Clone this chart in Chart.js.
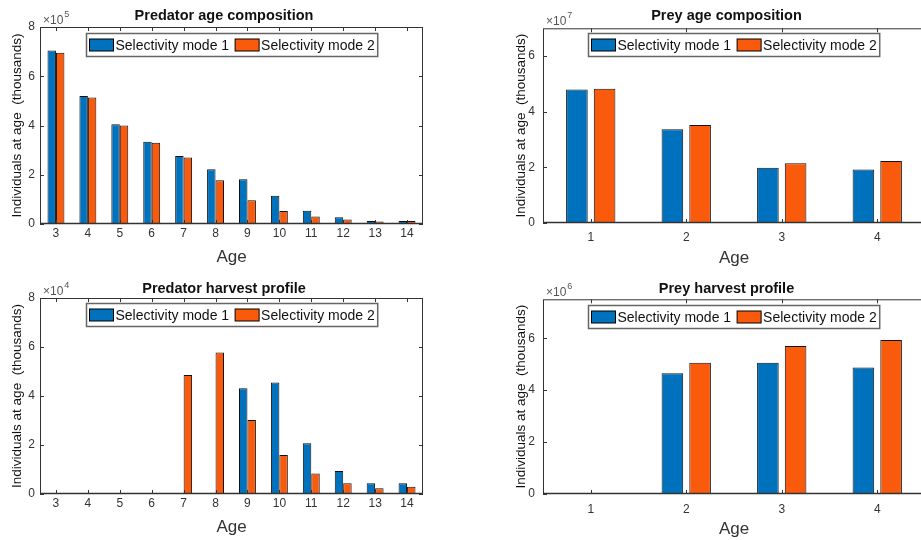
<!DOCTYPE html>
<html>
<head>
<title>Predator and prey age composition</title>
<script src="https://cdn.jsdelivr.net/npm/chart.js"></script>
<style>
  body { margin: 0; width: 921px; height: 540px; overflow: hidden; background: #fff; }
  canvas { position: absolute; }
</style>
</head>
<body>
<canvas id="predAge" width="460" height="270" style="left:0;top:0"></canvas>
<canvas id="preyAge" width="480" height="270" style="left:460px;top:0"></canvas>
<canvas id="predHarvest" width="460" height="270" style="left:0;top:270px"></canvas>
<canvas id="preyHarvest" width="480" height="270" style="left:460px;top:270px"></canvas>

<script>
// data
const predatorAges = ['3', '4', '5', '6', '7', '8', '9', '10', '11', '12', '13', '14'];
const preyAges = ['1', '2', '3', '4'];
const seriesNames = ['Selectivity mode 1', 'Selectivity mode 2'];

const predAgeMode1 = [7.05e5, 5.20e5, 4.05e5, 3.34e5, 2.76e5, 2.22e5, 1.82e5, 1.15e5, 0.54e5, 0.27e5, 0.12e5, 0.12e5];
const predAgeMode2 = [6.95e5, 5.14e5, 4.00e5, 3.30e5, 2.70e5, 1.78e5, 0.96e5, 0.53e5, 0.30e5, 0.18e5, 0.10e5, 0.12e5];

const preyAgeMode1 = [4.80e7, 3.37e7, 1.99e7, 1.92e7];
const preyAgeMode2 = [4.83e7, 3.52e7, 2.15e7, 2.23e7];

const predHarvestMode1 = [0, 0, 0, 0, 0, 0, 4.32e4, 4.55e4, 2.07e4, 0.94e4, 0.44e4, 0.44e4];
const predHarvestMode2 = [0, 0, 0, 0, 4.86e4, 5.78e4, 3.02e4, 1.59e4, 0.84e4, 0.44e4, 0.23e4, 0.30e4];

const preyHarvestMode1 = [0, 4.65e6, 5.06e6, 4.87e6];
const preyHarvestMode2 = [0, 5.06e6, 5.70e6, 5.93e6];

const FONT = '"Liberation Sans", Arial, sans-serif';
const BLUE = '#0072BD';
const ORANGE = '#F95A0C';

// MATLAB-ish title, box, inward ticks, exponent and boxed legend
const matlabAxes = {
  id: 'matlabAxes',
  afterDraw(chart, args, opts) {
    const { ctx, chartArea: a, scales: { x, y } } = chart;
    ctx.save();

    // title
    ctx.fillStyle = '#111';
    ctx.font = 'bold 14.5px ' + FONT;
    ctx.textAlign = 'center';
    ctx.textBaseline = 'middle';
    ctx.fillText(opts.title, (a.left + a.right) / 2 + opts.titleShift, opts.titleY);

    ctx.strokeStyle = '#333';
    ctx.lineWidth = 1;
    ctx.strokeRect(a.left + 0.5, a.top + 0.5, a.right - a.left - 1, a.bottom - a.top - 1);
    ctx.lineWidth = 1.6;
    ctx.beginPath();
    ctx.moveTo(a.left, a.bottom - 0.5);
    ctx.lineTo(a.right, a.bottom - 0.5);
    ctx.stroke();

    const tl = 4;
    ctx.lineWidth = 1;
    ctx.beginPath();
    x.ticks.forEach((t, i) => {
      const px = Math.round(x.getPixelForTick(i)) + 0.5;
      ctx.moveTo(px, a.bottom); ctx.lineTo(px, a.bottom - tl);
      ctx.moveTo(px, a.top); ctx.lineTo(px, a.top + tl);
    });
    y.ticks.forEach(t => {
      const py = Math.round(y.getPixelForValue(t.value)) + 0.5;
      ctx.moveTo(a.left, py); ctx.lineTo(a.left + tl, py);
      ctx.moveTo(a.right, py); ctx.lineTo(a.right - tl, py);
    });
    ctx.stroke();

    // x10^n
    ctx.fillStyle = '#555';
    ctx.textAlign = 'left';
    ctx.textBaseline = 'alphabetic';
    ctx.font = '12px ' + FONT;
    const ex = a.left + 3, ey = a.top - 3;
    ctx.fillText('\u00d710', ex, ey);
    const w = ctx.measureText('\u00d710').width;
    ctx.font = '9px ' + FONT;
    ctx.fillText(String(opts.exponent), ex + w + 1, ey - 7);

    // legend
    ctx.font = '14px ' + FONT;
    const items = chart.data.datasets.map(ds => ({
      label: ds.label, color: ds.backgroundColor, w: ctx.measureText(ds.label).width
    }));
    const sw = 24, sh = 12, pad = 3, gap = 2, sep = 6, lh = 23;
    const total = pad * 2 + items.reduce((s, it) => s + sw + gap + it.w, 0) + sep * (items.length - 1);
    const lx = Math.round((a.left + a.right) / 2 - total / 2) + 0.5;
    const ly = Math.round(a.top + opts.legendTop) + 0.5;
    ctx.fillStyle = '#fff';
    ctx.fillRect(lx, ly, total, lh);
    ctx.strokeStyle = '#666';
    ctx.lineWidth = 1.5;
    ctx.strokeRect(lx, ly, total, lh);
    let cx = lx + pad;
    items.forEach(it => {
      const sy = ly + (lh - sh) / 2;
      ctx.fillStyle = it.color;
      ctx.fillRect(cx, sy, sw, sh);
      ctx.strokeStyle = '#000';
      ctx.lineWidth = 1;
      ctx.strokeRect(cx, sy, sw, sh);
      cx += sw + gap;
      ctx.fillStyle = '#111';
      ctx.textBaseline = 'middle';
      ctx.fillText(it.label, cx, ly + lh / 2 + 1);
      cx += it.w + sep;
    });
    ctx.restore();
  }
};

function makeChart(id, title, labels, mode1, mode2, f) {
  const step = 2 * Math.pow(10, f.exp);
  new Chart(document.getElementById(id), {
    type: 'bar',
    data: {
      labels: labels,
      datasets: [
        { label: seriesNames[0], data: mode1, backgroundColor: BLUE, borderColor: '#111', borderWidth: 1 },
        { label: seriesNames[1], data: mode2, backgroundColor: ORANGE, borderColor: '#111', borderWidth: 1 }
      ]
    },
    options: {
      responsive: false,
      animation: false,
      layout: { padding: { left: 0, right: f.padRight, top: f.top, bottom: 0 } },
      datasets: { bar: { categoryPercentage: f.cat, barPercentage: f.bar } },
      plugins: {
        legend: { display: false },
        tooltip: { enabled: false },
        title: { display: false },
        matlabAxes: { title: title, titleY: f.titleY, titleShift: -7.5, exponent: f.exp, legendTop: f.legendTop }
      },
      scales: {
        x: {
          grid: { display: false, drawTicks: false, tickLength: 0 },
          border: { display: false },
          ticks: { color: '#333', font: { family: FONT, size: 12 }, padding: f.xTickPad, maxRotation: 0, autoSkip: false },
          title: { display: true, text: 'Age', color: '#333', font: { family: FONT, size: 17 }, padding: { top: 0, bottom: f.xTitlePad } },
          afterFit: s => { s.height = f.xHeight; }
        },
        y: {
          min: 0,
          max: f.max,
          grid: { display: false, drawTicks: false, tickLength: 0 },
          border: { display: false },
          ticks: {
            color: '#333', font: { family: FONT, size: 12 }, padding: f.yTickPad, autoSkip: false,
            callback: v => Math.round(v / Math.pow(10, f.exp))
          },
          afterBuildTicks: s => {
            const n = Math.floor(f.max / step + 1e-9);
            s.ticks = Array.from({ length: n + 1 }, (_, k) => ({ value: k * step }));
          },
          title: {
            display: true, text: 'Individuals at age  (thousands)', color: '#111',
            font: { family: FONT, size: 13.5 }, padding: { top: f.yTitlePad, bottom: 0 }
          },
          afterFit: s => { s.width = f.yWidth; }
        }
      }
    },
    plugins: [matlabAxes]
  });
}

makeChart('predAge', 'Predator age composition', predatorAges, predAgeMode1, predAgeMode2, {
  exp: 5, max: 8e5, cat: 0.53, bar: 1.0, top: 27, padRight: 37, yWidth: 40, xHeight: 46,
  titleY: 15.5, xTickPad: 2, xTitlePad: 2.8, yTitlePad: 9, yTickPad: 5, legendTop: 6
});
makeChart('preyAge', 'Prey age composition', preyAges, preyAgeMode1, preyAgeMode2, {
  exp: 7, max: 7e7, cat: 0.58, bar: 0.78, top: 28.3, padRight: 15, yWidth: 83, xHeight: 47,
  titleY: 16, xTickPad: 7.8, xTitlePad: 1.8, yTitlePad: 53, yTickPad: 8, legendTop: 5
});
makeChart('predHarvest', 'Predator harvest profile', predatorAges, predHarvestMode1, predHarvestMode2, {
  exp: 4, max: 8e4, cat: 0.53, bar: 1.0, top: 28, padRight: 37, yWidth: 40, xHeight: 46,
  titleY: 19, xTickPad: 2, xTitlePad: 2.3, yTitlePad: 9, yTickPad: 5, legendTop: 5
});
makeChart('preyHarvest', 'Prey harvest profile', preyAges, preyHarvestMode1, preyHarvestMode2, {
  exp: 6, max: 7.5e6, cat: 0.58, bar: 0.78, top: 29.3, padRight: 15, yWidth: 83, xHeight: 46,
  titleY: 19, xTickPad: 8.3, xTitlePad: 0, yTitlePad: 53, yTickPad: 8, legendTop: 6
});
</script>
</body>
</html>
